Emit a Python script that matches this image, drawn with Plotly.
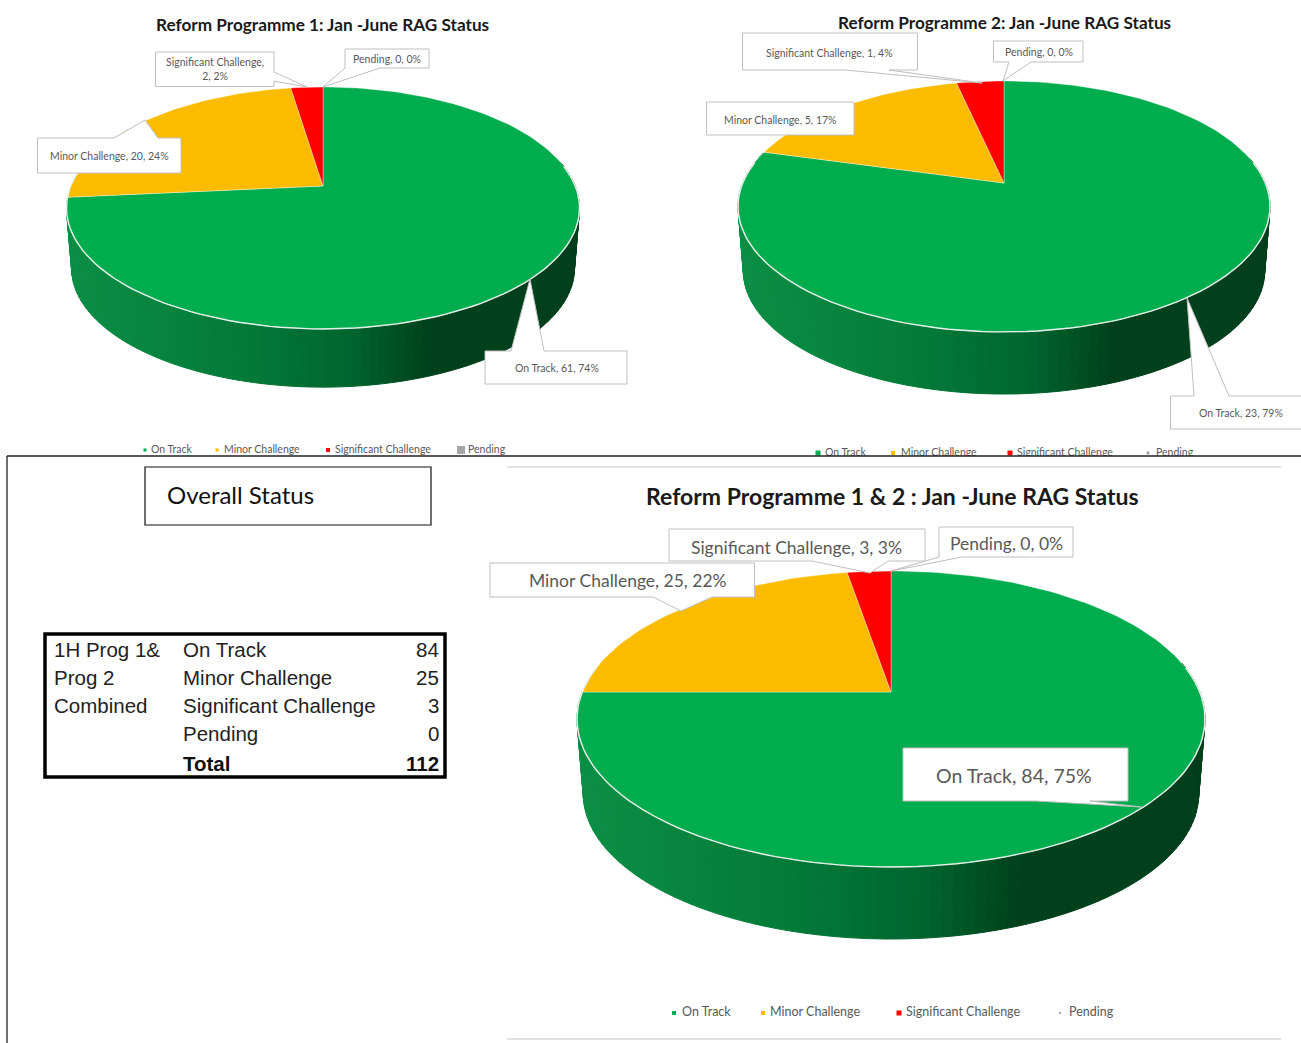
import math
import plotly.graph_objects as go

# ---------- data ----------
CATEGORIES = ["On Track", "Minor Challenge", "Significant Challenge", "Pending"]
PROG1_COUNTS = [61, 20, 2, 0]
PROG1_PCTS = [74, 24, 2, 0]
PROG2_COUNTS = [23, 5, 1, 0]
PROG2_PCTS = [79, 17, 4, 0]
COMBINED_COUNTS = [84, 25, 3, 0]
COMBINED_PCTS = [75, 22, 3, 0]
TITLE1 = "Reform Programme 1: Jan -June RAG Status"
TITLE2 = "Reform Programme 2: Jan -June RAG Status"
TITLE3 = "Reform Programme 1 & 2 : Jan -June RAG Status"
TABLE_HEAD = ["1H Prog 1&", "Prog 2", "Combined"]

# ---------- styles ----------
SLICE_COLORS = ["#00AD4E", "#FBBC00", "#FF0000", "#A5A5A5"]
WALL_STOPS = [(0.0, (11, 143, 69)), (0.35, (3, 122, 56)), (0.55, (0, 101, 46)),
              (0.70, (0, 65, 27)), (1.0, (1, 63, 28))]
LABEL_GREY = "#595959"
CALIBRI = "Lato, Carlito, sans-serif"
TABLE_FONT = "Liberation Sans, sans-serif"

# perspective pie geometry
PIES = [
    dict(counts=PROG1_COUNTS, cx=323, ay=186, top=87, bottom=329, hw=256.5, off=61),
    dict(counts=PROG2_COUNTS, cx=1004, ay=183, top=81, bottom=332, hw=266, off=65),
    dict(counts=COMBINED_COUNTS, cx=891, ay=692, top=571, bottom=867, hw=314, off=75.5),
]
# callouts: box (x0,y0,x1,y1), side of pointer, pointer base a,b, tip (x,y)
CALLOUTS = [
    [((155.5, 52, 274, 86.5), "right", 72, 81, (307, 87), 214.5, 69, 10.5),
     ((345, 49, 429, 68), "bottom", 345, 380, (323, 87), 387, 59, 10.5),
     ((37.5, 138, 181, 173), "top", 114, 158, (145, 120), 109, 156, 10.5),
     ((485, 351, 627, 384), "top", 511, 544, (530, 279), 557, 367.5, 10.5)],
    [((742.5, 33, 917.5, 70), "bottom", 845, 889, (982, 83), 829.5, 52.5, 10.5),
     ((993.5, 41, 1083, 62), "bottom", 1009, 1031, (1003, 81), 1039, 52, 10.5),
     ((706.5, 102, 854, 135), None, 0, 0, None, 780.5, 119.5, 10.5),
     ((1170.5, 396, 1310, 429), "top", 1194, 1229, (1187, 298), 1241, 413, 10.5)],
    [((669, 529, 925, 561), "bottom", 812, 888, (870, 573), 796, 547.5, 17.5),
     ((939, 527, 1073, 557), "bottom", 939, 962, (891, 571), 1006, 543.5, 17.5),
     ((490, 563, 754.5, 597), "bottom", 653, 712, (681, 611), 628, 580.5, 17.5),
     ((903, 748, 1128, 801), "bottom", 1036, 1090, (1141, 807), 1014, 775, 19.5)],
]
CALLOUT_ORDER = [2, 3, 1, 0]
LEGENDS = [
    dict(y=450, size=10.5, msize=[3, 3, 4, 8], mx=[145, 217, 328, 461], tx=[151, 224, 335, 468]),
    dict(y=453, size=10.5, msize=[5, 4, 5, 3], mx=[818, 893, 1010, 1148], tx=[825, 901, 1017, 1156]),
    dict(y=1013, size=12.5, msize=[4, 4, 5, 2], mx=[674, 763, 899, 1060], tx=[682, 770, 906, 1069]),
]


def project(p, theta, scale=1.0, dy=0.0):
    k = (p["bottom"] - p["ay"] - (p["ay"] - p["top"])) / (p["bottom"] - p["top"])
    a = (p["ay"] - p["top"]) * (1 + k)
    b = p["hw"] * math.sqrt(1 - k * k)
    X, Y = math.sin(theta), math.cos(theta)
    w = 1 + k * Y
    return p["cx"] + scale * b * X / w, p["ay"] + dy - scale * a * Y / w


def wall_color(f):
    f = min(max(f, 0), 1)
    for (f0, c0), (f1, c1) in zip(WALL_STOPS, WALL_STOPS[1:]):
        if f <= f1:
            t = (f - f0) / (f1 - f0)
            return "rgb(%d,%d,%d)" % tuple(round(u + (v - u) * t) for u, v in zip(c0, c1))
    return "rgb(1,63,28)"


fig = go.Figure()


def poly(xs, ys, fill, line=None, width=0):
    fig.add_trace(go.Scatter(x=xs, y=ys, mode="lines", fill="toself", fillcolor=fill,
                             line=dict(color=line or fill, width=width),
                             hoverinfo="skip", showlegend=False))


def draw_pie(p):
    total = sum(p["counts"])
    on_end = 2 * math.pi * p["counts"][0] / total
    t0, t1 = math.radians(78), min(on_end, math.radians(285))
    n = 110
    for i in range(n):
        a = t0 + (t1 - t0) * i / n
        c = t0 + (t1 - t0) * (i + 1) / n
        pts = [project(p, a), project(p, c), project(p, c, 0.98, p["off"]), project(p, a, 0.98, p["off"])]
        mid = project(p, (a + c) / 2, 0.98, p["off"])[0]
        col = wall_color((mid - (p["cx"] - p["hw"])) / (2 * p["hw"]))
        poly([q[0] for q in pts] + [pts[0][0]], [q[1] for q in pts] + [pts[0][1]], col, col, 1)
    cum = 0
    for v, col in zip(p["counts"], SLICE_COLORS):
        if v > 0:
            a0 = 2 * math.pi * cum / total
            a1 = 2 * math.pi * (cum + v) / total
            steps = max(3, int(200 * v / total))
            rim = [project(p, a0 + (a1 - a0) * j / steps) for j in range(steps + 1)]
            xs = [p["cx"]] + [q[0] for q in rim] + [p["cx"]]
            ys = [p["ay"]] + [q[1] for q in rim] + [p["ay"]]
            poly(xs, ys, col, "rgba(255,255,255,0.45)", 0.8)
        cum += v
    front = [project(p, math.radians(80 + j)) for j in range(0, 201, 2)]
    fig.add_trace(go.Scatter(x=[q[0] for q in front], y=[q[1] for q in front], mode="lines",
                             line=dict(color="#E4EFE8", width=1.4), hoverinfo="skip", showlegend=False))


def draw_legend(L):
    for i, cat in enumerate(CATEGORIES):
        fig.add_trace(go.Scatter(
            x=[L["mx"][i]], y=[L["y"]], mode="markers",
            marker=dict(symbol="square", size=L["msize"][i], color=SLICE_COLORS[i]),
            hoverinfo="skip", showlegend=False))
        fig.add_trace(go.Scatter(
            x=[L["tx"][i]], y=[L["y"]], mode="text", text=[cat], textposition="middle right",
            textfont=dict(family=CALIBRI, size=L["size"], color=LABEL_GREY),
            hoverinfo="skip", showlegend=False))


# top charts
draw_pie(PIES[0])
draw_pie(PIES[1])
draw_legend(LEGENDS[0])
draw_legend(LEGENDS[1])

# lower panel covers the clipped bottoms of the upper legends
poly([7, 1310, 1310, 7, 7], [456, 456, 1050, 1050, 456], "#FFFFFF", "#222222", 1.3)

# lower chart
draw_pie(PIES[2])
draw_legend(LEGENDS[2])

shapes = []
annotations = []


def note(x, y, text, size, color="#1A1A1A", font=CALIBRI, anchor="center", bold=False):
    annotations.append(dict(x=x, y=y, xref="x", yref="y", text=f"<b>{text}</b>" if bold else text,
                            showarrow=False, xanchor=anchor, yanchor="middle",
                            font=dict(family=font, size=size, color=color)))


def callout(box, side, a, b, tip):
    x0, y0, x1, y1 = box
    pts = [(x0, y0)]
    if side == "top":
        pts += [(a, y0), tip, (b, y0)]
    pts.append((x1, y0))
    if side == "right":
        pts += [(x1, a), tip, (x1, b)]
    pts.append((x1, y1))
    if side == "bottom":
        pts += [(b, y1), tip, (a, y1)]
    pts.append((x0, y1))
    path = "M " + " L ".join(f"{px},{py}" for px, py in pts) + " Z"
    shapes.append(dict(type="path", path=path, xref="x", yref="y", layer="above",
                       fillcolor="#FFFFFF", line=dict(color="#BFBFBF", width=1)))


series = [(PROG1_COUNTS, PROG1_PCTS), (PROG2_COUNTS, PROG2_PCTS), (COMBINED_COUNTS, COMBINED_PCTS)]
for group, (counts, pcts) in zip(CALLOUTS, series):
    for spec, idx in zip(group, CALLOUT_ORDER):
        box, side, a, b, tip, tx, ty, size = spec
        callout(box, side, a, b, tip)
        cat = CATEGORIES[idx]
        if box[3] - box[1] > 34 and size < 11 and cat == "Significant Challenge" and box[2] - box[0] < 130:
            label = f"{cat},<br>{counts[idx]}, {pcts[idx]}%"
        else:
            label = f"{cat}, {counts[idx]}, {pcts[idx]}%"
        note(tx, ty, label, size, LABEL_GREY)

# titles
note(322.5, 24.5, TITLE1, 17.2, bold=True)
note(1004, 22, TITLE2, 17.2, bold=True)
note(892, 496, TITLE3, 23, bold=True)

# chart frame lines of the lower chart
for yy in (467, 1039):
    shapes.append(dict(type="line", x0=507, x1=1281, y0=yy, y1=yy, xref="x", yref="y",
                       line=dict(color="#D9D9D9", width=1.5)))

# Overall Status box
shapes.append(dict(type="rect", x0=145, x1=431, y0=467, y1=525, xref="x", yref="y",
                   line=dict(color="#111111", width=1.2), fillcolor="rgba(0,0,0,0)"))
note(165, 494, "Overall Status", 24, "#111111", anchor="left")

# table
shapes.append(dict(type="rect", x0=45, x1=445, y0=634, y1=777, xref="x", yref="y",
                   line=dict(color="#000000", width=3.5), fillcolor="rgba(0,0,0,0)"))
ROW_Y = [649, 677, 705, 733]
for yy, h in zip(ROW_Y, TABLE_HEAD):
    note(52, yy, h, 20.5, "#222222", TABLE_FONT, "left")
for yy, cat, v in zip(ROW_Y, CATEGORIES, COMBINED_COUNTS):
    note(181, yy, cat, 20.5, "#222222", TABLE_FONT, "left")
    note(441, yy, str(v), 20.5, "#222222", TABLE_FONT, "right")
note(181, 763, "Total", 20.5, "#111111", TABLE_FONT, "left", True)
note(441, 763, str(sum(COMBINED_COUNTS)), 20.5, "#111111", TABLE_FONT, "right", True)

fig.update_layout(
    width=1301, height=1043, margin=dict(l=0, r=0, t=0, b=0),
    paper_bgcolor="#FFFFFF", plot_bgcolor="#FFFFFF", showlegend=False,
    shapes=shapes, annotations=annotations,
    xaxis=dict(range=[0, 1301], visible=False, fixedrange=True),
    yaxis=dict(range=[1043, 0], visible=False, fixedrange=True),
)
fig.write_html("out.html", config={"displayModeBar": False},
               post_script="document.body.style.margin='0';document.body.style.overflow='hidden';")
